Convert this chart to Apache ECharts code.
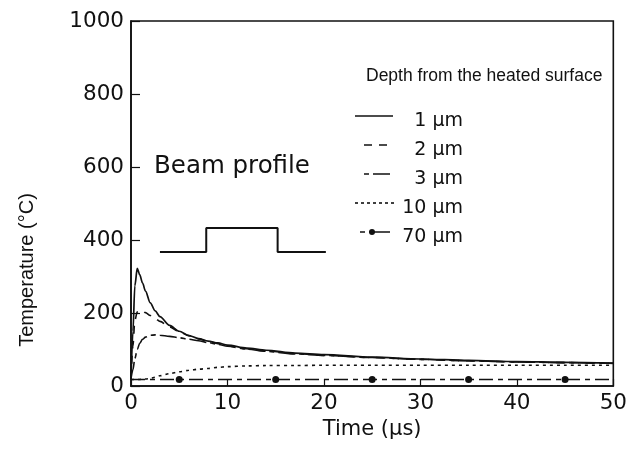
<!DOCTYPE html>
<html>
<head>
<meta charset="utf-8">
<script src="https://cdn.jsdelivr.net/npm/echarts@6/dist/echarts.min.js"></script>
<style>html,body{margin:0;padding:0;background:#fff;}#chart{width:630px;height:456px;}</style>
</head>
<body>
<div id="chart"></div>
<script>
// ---- data ----
var timeUs = [0, 0.2, 0.4, 0.65, 0.9, 1.2, 1.5, 2, 2.5, 3, 4, 5, 6, 7, 8, 9, 10, 12, 14, 17, 20, 25, 30, 35, 40, 45, 50];
var temp1um = [20, 150, 275, 322, 305, 282, 260, 228, 206, 190, 166, 150, 138, 130, 123, 118, 112, 104, 98, 90, 86, 79, 74, 70, 67, 65, 63];
var temp2um = [20, 110, 180, 203, 207, 205, 201, 193, 185, 177, 162, 149, 138, 129, 122, 116, 110, 102, 96, 89, 84, 78, 73, 69, 66, 64, 62];
var temp3um = [20, 45, 75, 100, 117, 128, 134, 139, 140, 139, 136, 132, 128, 124, 119, 114, 109, 101, 95, 88, 84, 78, 73, 69, 66, 64, 62];
var temp10um = [18, 18, 18, 18, 18, 19, 19, 21, 24, 28, 34, 39, 43, 46, 48, 51, 53, 55, 56, 56, 57, 57, 57, 57, 57, 57, 57];
var time70 = [0, 5, 10, 15, 20, 25, 30, 35, 40, 45, 50];
var temp70um = [18, 18, 18, 18, 18, 18, 18, 18, 18, 18, 18];
var marked70 = [false, true, false, true, false, true, false, true, false, true, false];
var beamX = [3, 7.8, 7.8, 15.2, 15.2, 20.2];
var beamY = [367, 367, 433, 433, 367, 367];
var xTicks = [0, 10, 20, 30, 40, 50];
var yTicks = [0, 200, 400, 600, 800, 1000];
var legendLabels = ['1 \u03bcm', '2 \u03bcm', '3 \u03bcm', '10 \u03bcm', '70 \u03bcm'];

function pairs(xs, ys) { return xs.map(function (x, i) { return [x, ys[i]]; }); }

var FONT = 'DejaVu Sans';
var SANS = 'Liberation Sans';
var chart = echarts.init(document.getElementById('chart'), null, {renderer: 'canvas'});

var legendRowsY = [121, 150, 179, 208, 237];
var graphics = [
  {type: 'text', x: 366, y: 76, style: {text: 'Depth from the heated surface', font: '17.5px "' + SANS + '"', fill: '#111', verticalAlign: 'middle'}},
  {type: 'text', x: 154, y: 167, style: {text: 'Beam profile', font: '24.5px "' + FONT + '"', fill: '#111', verticalAlign: 'middle'}},
  {type: 'text', x: 27, y: 270, rotation: Math.PI / 2, style: {text: 'Temperature (\u00b0C)', font: '20px "' + SANS + '"', fill: '#111', align: 'center', verticalAlign: 'middle'}}
];
var dashes = [null, [8, 7], [5, 4, 17, 4], [3, 3], [5, 4, 30, 0]];
var sampleX = [[355, 393], [364, 392], [364, 390], [355, 395], [360, 390]];
legendLabels.forEach(function (lab, i) {
  var y = legendRowsY[i] - 5;
  graphics.push({type: 'line', shape: {x1: sampleX[i][0], y1: y, x2: sampleX[i][1], y2: y},
    style: {stroke: '#111', lineWidth: 1.6, lineDash: dashes[i] || null}});
  graphics.push({type: 'text', x: 463, y: legendRowsY[i], style: {text: lab, font: '19px "' + FONT + '"', fill: '#111', align: 'right', verticalAlign: 'middle'}});
});
graphics.push({type: 'circle', shape: {cx: 372, cy: legendRowsY[4] - 5, r: 3}, style: {fill: '#111'}});

var option = {
  animation: false,
  backgroundColor: '#fff',
  grid: {left: 131, right: 14, top: 21, bottom: 70, show: true, borderColor: '#111', borderWidth: 1.6},
  xAxis: {
    type: 'value', min: xTicks[0], max: xTicks[xTicks.length - 1], interval: 10,
    name: 'Time (\u03bcs)', nameLocation: 'middle', nameGap: 31,
    nameTextStyle: {fontFamily: FONT, fontSize: 21, color: '#111'},
    axisLine: {lineStyle: {color: '#111', width: 1.6}},
    axisTick: {inside: true, length: 7, lineStyle: {color: '#111', width: 1.2}},
    axisLabel: {fontFamily: FONT, fontSize: 21.5, color: '#111', margin: 6, formatter: function (v) { return String(v); }},
    splitLine: {show: false}
  },
  yAxis: {
    type: 'value', min: yTicks[0], max: yTicks[yTicks.length - 1], interval: 200,
    axisLine: {lineStyle: {color: '#111', width: 1.6}},
    axisTick: {inside: true, length: 9, lineStyle: {color: '#111', width: 1.2}},
    axisLabel: {fontFamily: FONT, fontSize: 21.5, color: '#111', margin: 7, formatter: function (v) { return String(v); }},
    splitLine: {show: false}
  },
  graphic: graphics,
  series: [
    {name: '1 um', type: 'line', data: pairs(timeUs, temp1um), showSymbol: false, smooth: 0.3, smoothMonotone: 'x',
      lineStyle: {color: '#111', width: 1.7, type: 'solid'}},
    {name: '2 um', type: 'line', data: pairs(timeUs, temp2um), showSymbol: false, smooth: 0.3, smoothMonotone: 'x',
      lineStyle: {color: '#111', width: 1.6, type: [8, 7]}},
    {name: '3 um', type: 'line', data: pairs(timeUs, temp3um), showSymbol: false, smooth: 0.3, smoothMonotone: 'x',
      lineStyle: {color: '#111', width: 1.6, type: [17, 4, 5, 4]}},
    {name: '10 um', type: 'line', data: pairs(timeUs, temp10um), showSymbol: false, smooth: 0.3, smoothMonotone: 'x',
      lineStyle: {color: '#111', width: 1.6, type: [3, 4]}},
    {name: '70 um', type: 'line', data: pairs(time70, temp70um),
      symbol: function (v, p) { return marked70[p.dataIndex] ? 'circle' : 'none'; }, symbolSize: 7, showSymbol: true,
      itemStyle: {color: '#111'},
      lineStyle: {color: '#111', width: 1.6, type: [14, 5, 5, 5]}},
    {name: 'beam', type: 'line', data: pairs(beamX, beamY), showSymbol: false, lineStyle: {color: '#111', width: 2}}
  ]
};
chart.setOption(option);
</script>
</body>
</html>
